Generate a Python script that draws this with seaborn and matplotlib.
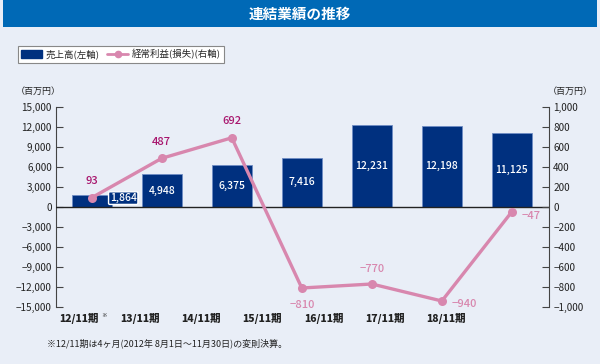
import matplotlib
matplotlib.use("Agg")
import matplotlib.pyplot as plt
import matplotlib.patches as mpatches
import matplotlib.lines as mlines
import pandas as pd
import seaborn as sns

periods = ["12/11期", "13/11期", "14/11期", "15/11期", "16/11期", "17/11期", "18/11期"]
sales = [1864, 4948, 6375, 7416, 12231, 12198, 11125]
profit = [93, 487, 692, -810, -770, -940, -47]
left_ticks = [15000, 12000, 9000, 6000, 3000, 0, -3000, -6000, -9000, -12000, -15000]
right_ticks = [1000, 800, 600, 400, 200, 0, -200, -400, -600, -800, -1000]

NAVY = "#00307f"
PINK = "#d887ae"
DARK_PINK = "#a8156d"
BG = "#e9eef7"

sns.set_style("white")
plt.rcParams["font.family"] = ["Noto Sans CJK JP", "DejaVu Sans"]

df = pd.DataFrame({"period": periods, "sales": sales, "profit": profit})

fig = plt.figure(figsize=(6.0, 3.64), dpi=100, facecolor=BG)
ax = fig.add_axes([56 / 600, 1 - 307 / 364, (549 - 56) / 600, 200 / 364])
ax.set_facecolor("none")

sns.barplot(data=df, x="period", y="sales", color=NAVY, saturation=1, width=0.57,
            edgecolor="#6f8cc4", linewidth=0.6, ax=ax, zorder=2)
ax.set_xlim(-0.51, 6.53)
ax.set_ylim(-15000, 15000)
ax.set_yticks(left_ticks)
ax.set_yticklabels([f"{v:,}".replace("-", "\u2212") for v in left_ticks], fontsize=7.2)
ax.axhline(0, color="#222222", lw=1.0, zorder=3)

# bar labels
for i, v in enumerate(sales):
    if i == 0:
        ax.text(i + 0.45, v / 2 + 400, f"{v:,}", color="white", fontsize=7.5, ha="center", va="center",
                fontweight="medium", zorder=6,
                bbox=dict(boxstyle="round,pad=0.12", fc=NAVY, ec="white", lw=1.0))
    else:
        ax.text(i, v / 2, f"{v:,}", color="white", fontsize=7.5, ha="center", va="center",
                fontweight="medium", zorder=4)

# x labels (spaced differently from the bars, as in the original)
ax.set_xticks([-0.186 + 0.874 * i for i in range(len(periods))])
ax.set_xticklabels(periods, fontsize=7.5, fontweight="heavy", color="#222222")
ax.tick_params(axis="x", length=0, pad=4)
ax.text(-0.186 + 0.355, -16300, "※", fontsize=4, ha="center", va="center", clip_on=False)
ax.set_xlabel("")
ax.set_ylabel("")

ax.tick_params(axis="y", direction="in", length=5, width=0.8, color="#444444", pad=3,
               labelcolor="#222222")
for s in ["top", "right", "bottom"]:
    ax.spines[s].set_visible(False)
ax.spines["left"].set_color("#444444")
ax.spines["left"].set_linewidth(0.8)

ax2 = ax.twinx()
sns.lineplot(x=list(range(len(profit))), y=profit, color=PINK, lw=2.4, marker="o",
             markersize=6.5, markeredgewidth=0, ax=ax2, zorder=5)
ax2.set_ylim(-1000, 1000)
ax2.set_yticks(right_ticks)
ax2.set_yticklabels([f"{v:,}".replace("-", "\u2212") for v in right_ticks], fontsize=7.2)
ax2.tick_params(axis="y", direction="in", length=5, width=0.8, color="#444444", pad=3,
                labelcolor="#222222")
for s in ["top", "left", "bottom"]:
    ax2.spines[s].set_visible(False)
ax2.spines["right"].set_color("#444444")
ax2.spines["right"].set_linewidth(0.8)

# line labels
offsets = {0: (0, 12, "center"), 1: (0, 12, "center"), 2: (0, 12, "center"),
           3: (0, -12, "center"), 4: (0, 11, "center"), 5: (7, -2, "left"), 6: (7, -3, "left")}
for i, v in enumerate(profit):
    dx, dy, ha = offsets[i]
    col = DARK_PINK if v > 0 else PINK
    ax2.annotate(f"{v:,}".replace("-", "\u2212"), (i, v), xytext=(dx, dy), textcoords="offset points",
                 ha=ha, va="center", fontsize=8, color=col, fontweight="medium", zorder=6)

# unit labels
fig.text(38 / 600, 1 - 91 / 364, "（百万円）", fontsize=6.5, ha="center", va="center", color="#222222")
fig.text(570 / 600, 1 - 91 / 364, "（百万円）", fontsize=6.5, ha="center", va="center", color="#222222")

# title bar
fig.patches.append(mpatches.Rectangle((3 / 600, 1 - 27 / 364), 594 / 600, 27 / 364,
                                      transform=fig.transFigure, fc="#0069b6", ec="none"))
fig.text(0.5, 1 - 14 / 364, "連結業績の推移", fontsize=10.5, fontweight="bold", color="white",
         ha="center", va="center")

# legend
h1 = mpatches.Patch(fc=NAVY, ec=NAVY, label="売上高(左軸)")
h2 = mlines.Line2D([], [], color=PINK, lw=2, marker="o", markersize=4.5, label="経常利益(損失)(右軸)")
leg = fig.legend(handles=[h1, h2], loc="upper left", bbox_to_anchor=(18 / 600, 1 - 46 / 364),
                 ncol=2, fontsize=6.8, frameon=True, fancybox=False, framealpha=1,
                 edgecolor="#888888", borderpad=0.35, handlelength=2.2, handleheight=0.9,
                 columnspacing=0.8, handletextpad=0.4, borderaxespad=0)
leg.get_frame().set_linewidth(0.8)

# footnote
fig.text(47 / 600, 1 - 343 / 364, "※12/11期は4ヶ月(2012年 8月1日～11月30日)の変則決算。", fontsize=6.5,
         ha="left", va="center", color="#222222")

fig.savefig("out.png", dpi=100, facecolor=BG)
